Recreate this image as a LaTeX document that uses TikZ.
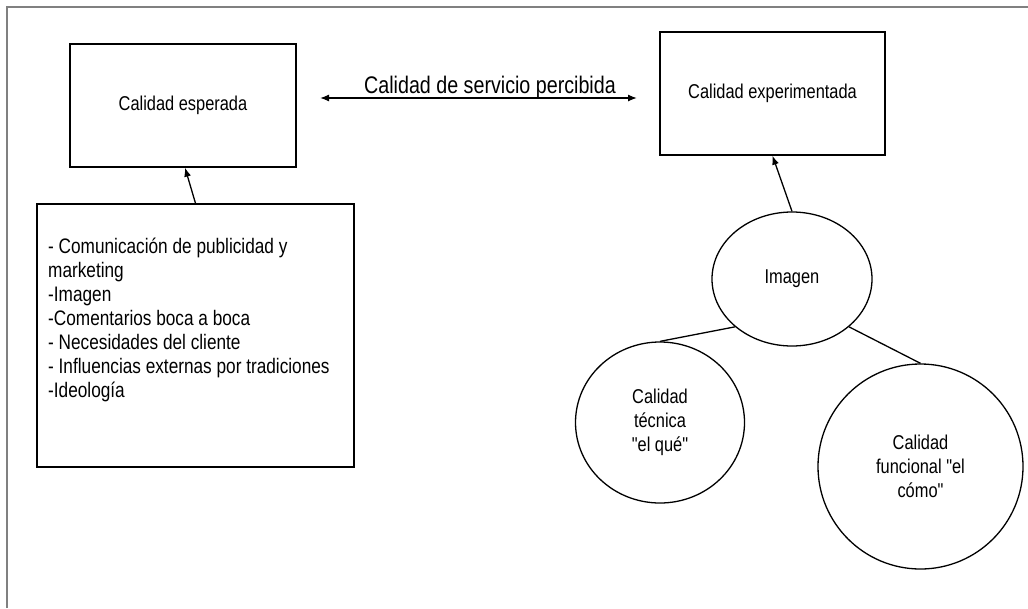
\documentclass[tikz,border=0pt]{standalone}
\usepackage{fontspec}
\newfontfamily\arialn[FakeStretch=0.82]{Liberation Sans}
\usetikzlibrary{shapes.geometric,arrows.meta}
\begin{document}
\begin{tikzpicture}[x=1pt,y=-1pt,
  boxnode/.style={draw=black,line width=1.4pt,rectangle,inner sep=0pt},
  blob/.style={draw=black,line width=1.3pt,ellipse,inner sep=0pt,align=center,
    font=\arialn\fontsize{20}{24}\selectfont},
  conn/.style={black,line width=1.3pt},
  arr/.style={conn,-{Latex[length=9pt,width=7pt]}},
  darr/.style={conn,{Latex[length=9pt,width=7pt]}-{Latex[length=9pt,width=7pt]}},
  frameline/.style={draw=black!50,line width=2pt}]
\useasboundingbox (0,0) rectangle (1028,608);
\fill[white] (0,0) rectangle (1028,608);
% page frame (top and left edges)
\draw[frameline] (7,608) -- (7,7) -- (1028,7);
% boxes
\node[boxnode,minimum width=226pt,minimum height=123pt,
  font=\arialn\fontsize{20}{24}\selectfont] (esp) at (183,105.5) {Calidad esperada};
\node[boxnode,minimum width=225pt,minimum height=123pt,
  font=\arialn\fontsize{20}{24}\selectfont] (exp) at (772.5,93.5) {Calidad experimentada};
\node[boxnode,minimum width=317pt,minimum height=263pt] (list) at (195.5,335.5) {};
\node[anchor=base west,align=left,inner sep=0pt,
  font=\arialn\fontsize{21}{24}\selectfont] (listtext) at (48,397)
  {- Comunicación de publicidad y\\marketing\\-Imagen\\-Comentarios boca a boca\\- Necesidades del cliente\\- Influencias externas por tradiciones\\-Ideología};
% ellipses
\node[blob,minimum width=160pt,minimum height=134pt] (img) at (792,279) {Imagen};
\node[blob,minimum width=169pt,minimum height=161pt] (tec) at (660,422.5) {Calidad\\técnica\\"el qué"};
\node[blob,minimum width=205pt,minimum height=205pt] (fun) at (920.5,466.5) {Calidad\\funcional "el\\cómo"};
% connectors
\draw[arr] (list.north) -- ([xshift=2pt]esp.south);
\draw[arr] (img.north) -- (exp.south);
\draw[conn] (img.220) -- (tec.north);
\draw[conn] (img.320) -- (fun.north);
\coordinate (aL) at (320,98);
\coordinate (aR) at (637,98);
\draw[darr] (aL) -- (aR);
\node[anchor=base,inner sep=0pt,font=\arialn\fontsize{24}{28}\selectfont] (lbl) at (490,93) {Calidad de servicio percibida};
\end{tikzpicture}
\end{document}
